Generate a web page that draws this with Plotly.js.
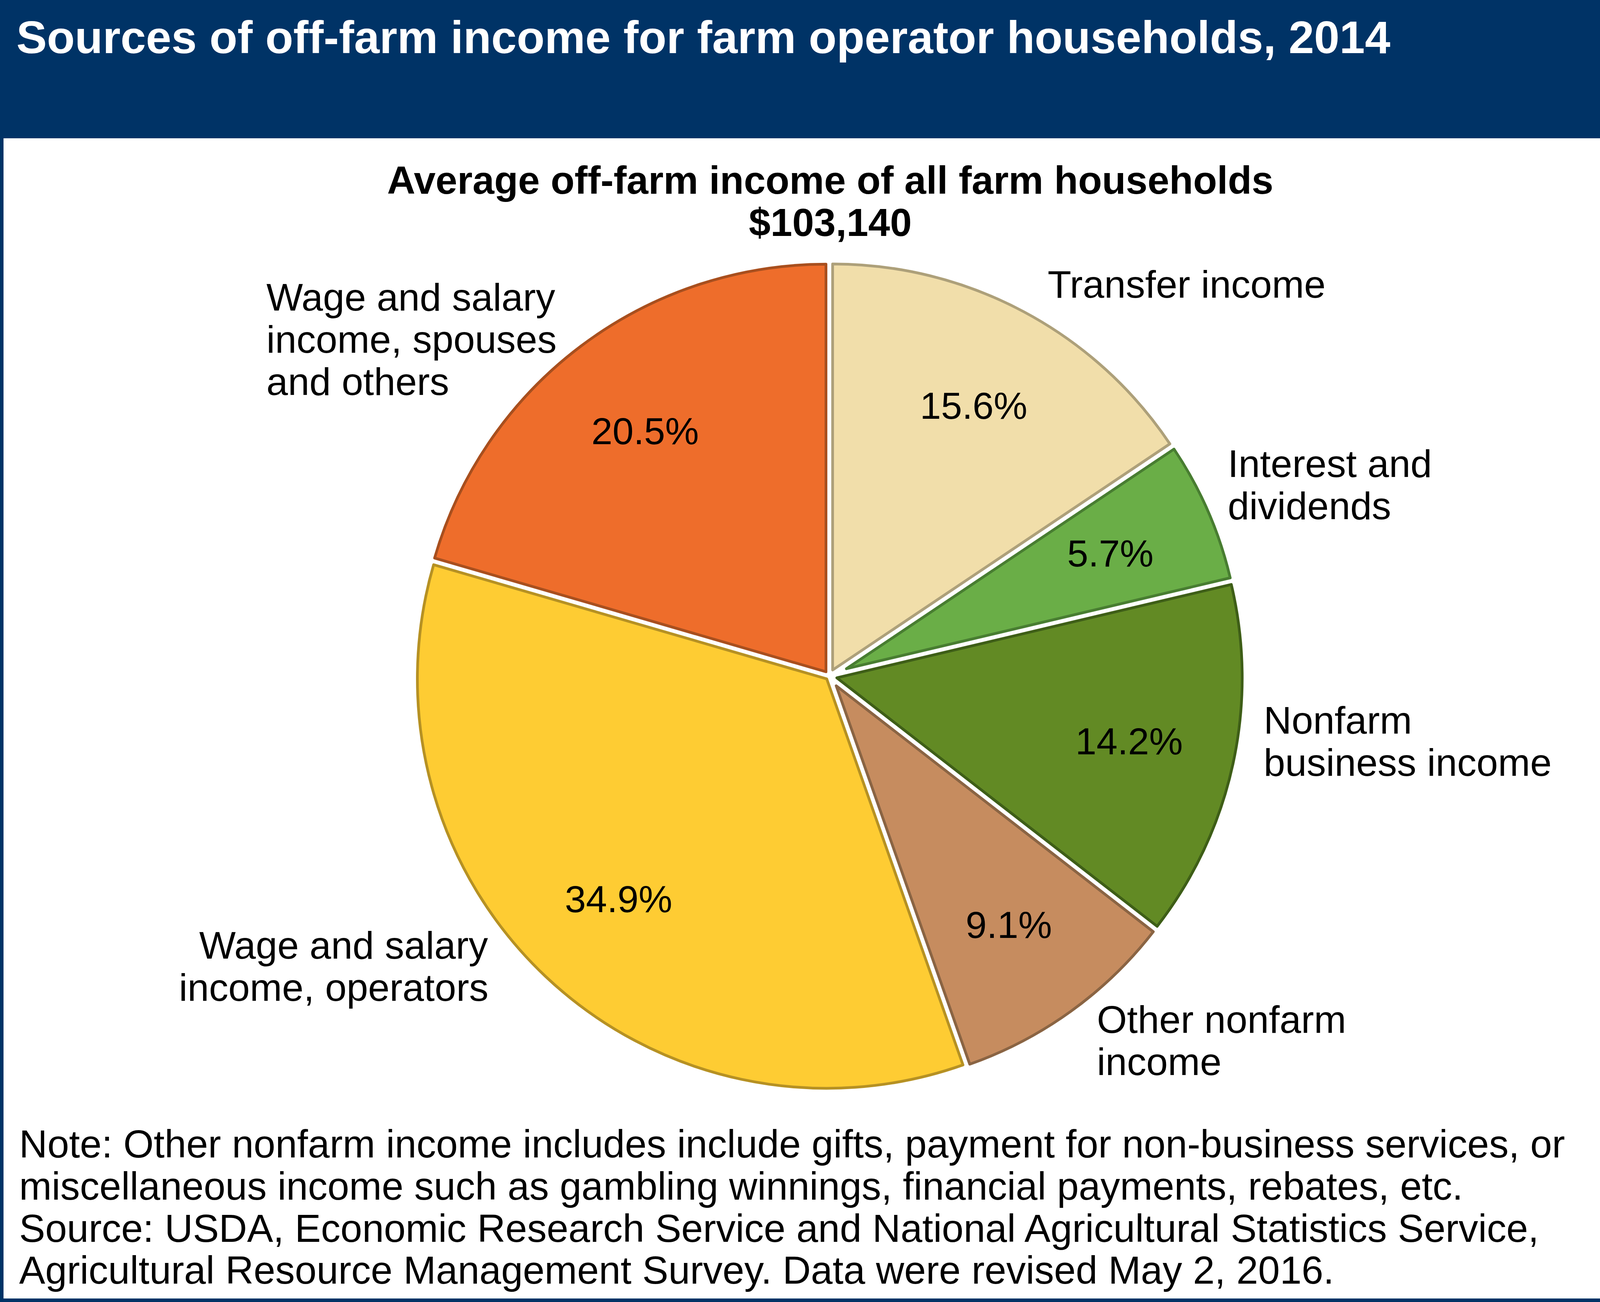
<!DOCTYPE html>
<html>
<head>
<meta charset="utf-8">
<script src="https://cdn.plot.ly/plotly-3.0.1.min.js"></script>
<style>
  body { margin: 0; background: #fff; }
</style>
</head>
<body>
<div id="chart"></div>
<script>
// data, clockwise from 12 o'clock
var categories = ['Transfer income', 'Interest and dividends', 'Nonfarm business income',
                  'Other nonfarm income', 'Wage and salary income, operators',
                  'Wage and salary income, spouses and others'];
var shares = [15.6, 5.7, 14.2, 9.1, 34.9, 20.5];   // percent of off-farm income
var labelLines = [['Transfer income'], ['Interest and', 'dividends'], ['Nonfarm', 'business income'],
                  ['Other nonfarm', 'income'], ['Wage and salary', 'income, operators'],
                  ['Wage and salary', 'income, spouses', 'and others']];
var chartTitle = 'Sources of off-farm income for farm operator households, 2014';
var subtitle = ['Average off-farm income of all farm households', '$103,140'];
var notes = ['Note: Other nonfarm income includes include gifts, payment for non-business services, or',
             'miscellaneous income such as gambling winnings, financial payments, rebates, etc.',
             'Source: USDA, Economic Research Service and National Agricultural Statistics Service,',
             'Agricultural Resource Management Survey. Data were revised May 2, 2016.'];

// styles
var fills = ['#F1DEAA', '#6AAE47', '#628A24', '#C68C5F', '#FECC33', '#EE6D2B'];
var edges = ['#ADA07A', '#487D31', '#3E5E17', '#8A6443', '#B69123', '#A84F1E'];
var navy = '#003366';
var font = 'Liberation Sans, Arial, Helvetica, sans-serif';
// label spots in px: x, first baseline, anchor
var labelSpots = [[2681, 762, 'left'], [3142, 1221, 'left'], [3234, 1878, 'left'],
                  [2807, 2644, 'left'], [1251, 2454, 'right'], [681, 795, 'left']];

var W = 4171, H = 3333;
var cx = 2123, cy = 1731, R = 1061;   // pie centre and outer radius, px
var lineW = 7, inset = 8.5;           // outline width, edge inset (white gap = 2*inset - lineW)
var lineGap = 108;                    // text line spacing, px

function px(x) { return x / W; }
function py(y) { return 1 - y / H; }
function mid(base, size) { return py(base - 0.347 * size); }   // baseline -> box middle

var total = shares.reduce(function(a, b) { return a + b; }, 0);
var rPath = R - lineW / 2;

// one trace per slice so every slice can be shifted and shrunk on its own
var data = [];
shares.forEach(function(v, k) {
  var shift = inset / Math.sin(Math.PI * v / total);
  var rk = rPath - shift;
  data.push({
    type: 'pie',
    values: shares,
    labels: categories,
    sort: false,
    direction: 'clockwise',
    rotation: 0,
    domain: { x: [px(cx - rPath), px(cx + rPath)], y: [py(cy + rPath), py(cy - rPath)] },
    marker: {
      colors: shares.map(function(_, i) { return i === k ? fills[k] : 'rgba(0,0,0,0)'; }),
      line: { color: shares.map(function(_, i) { return i === k ? edges[k] : 'rgba(0,0,0,0)'; }), width: lineW }
    },
    pull: shares.map(function(_, i) { return i === k ? shift / rk : 0; }),
    textinfo: 'none',
    hoverinfo: 'skip',
    showlegend: false
  });
});

var annotations = [];

// percentages inside the slices
var cum = 0;
shares.forEach(function(v) {
  var a = (cum + v / 2) / total * 2 * Math.PI;
  cum += v;
  var r = 0.74 * R;
  annotations.push({
    x: px(cx + r * Math.sin(a)), y: py(cy - r * Math.cos(a)),
    xref: 'paper', yref: 'paper', xanchor: 'center', yanchor: 'middle',
    text: v.toFixed(1) + '%', showarrow: false,
    font: { family: font, size: 97, color: '#000' }
  });
});

// slice names
labelLines.forEach(function(lines, k) {
  var spot = labelSpots[k];
  lines.forEach(function(t, j) {
    annotations.push({
      x: px(spot[0]), y: mid(spot[1] + j * lineGap, 99),
      xref: 'paper', yref: 'paper', xanchor: spot[2], yanchor: 'middle',
      text: t, showarrow: false, borderpad: 0,
      font: { family: font, size: 99, color: '#000' }
    });
  });
});

// subtitle
subtitle.forEach(function(t, j) {
  annotations.push({
    x: px(2125), y: mid(496 + j * lineGap, 100),
    xref: 'paper', yref: 'paper', xanchor: 'center', yanchor: 'middle',
    text: t, showarrow: false,
    font: { family: font, size: 100, color: '#000', weight: 'bold' }
  });
});

// notes
notes.forEach(function(t, j) {
  annotations.push({
    x: px(48), y: mid(2963 + j * 107.7, 100),
    xref: 'paper', yref: 'paper', xanchor: 'left', yanchor: 'middle',
    text: t, showarrow: false, borderpad: 0,
    font: { family: font, size: 100, color: '#000' }
  });
});

var layout = {
  width: W,
  height: H,
  margin: { l: 0, r: 0, t: 0, b: 0 },
  paper_bgcolor: '#fff',
  title: {
    text: chartTitle,
    x: px(42), xanchor: 'left',
    y: mid(136, 117), yanchor: 'middle',
    font: { family: font, size: 117, color: '#fff', weight: 'bold' }
  },
  shapes: [
    { type: 'rect', xref: 'paper', yref: 'paper', x0: 0, x1: 1, y0: py(354), y1: 1,
      fillcolor: navy, line: { width: 0 }, layer: 'below' },
    { type: 'rect', xref: 'paper', yref: 'paper', x0: 0, x1: 1, y0: 0, y1: 1,
      fillcolor: 'rgba(0,0,0,0)', line: { color: navy, width: 18 }, layer: 'above' }
  ],
  annotations: annotations
};

Plotly.newPlot('chart', data, layout, { staticPlot: true, displayModeBar: false });
</script>
</body>
</html>
